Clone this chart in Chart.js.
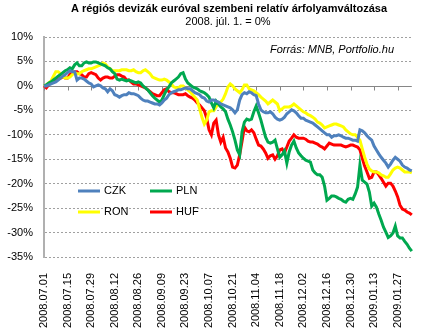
<!DOCTYPE html>
<html>
<head>
<meta charset="utf-8">
<script src="https://cdn.jsdelivr.net/npm/chart.js@4"></script>
<style>
  html, body { margin: 0; padding: 0; background: #fff; }
  #wrap { width: 433px; height: 334px; }
</style>
</head>
<body>
<div id="wrap"><canvas id="c" width="433" height="334"></canvas></div>
<script>
// Tick labels, one every 10 trading days
const tickLabels = [
  '2008.07.01', '2008.07.15', '2008.07.29', '2008.08.12', '2008.08.26', '2008.09.09',
  '2008.09.23', '2008.10.07', '2008.10.21', '2008.11.04', '2008.11.18', '2008.12.02',
  '2008.12.16', '2008.12.30', '2009.01.13', '2009.01.27'
];
const daysPerTick = 10;

// Daily change against the euro, % (2008-07-01 = 0)
const czk = [
  0, 0, 0.2, 0.4, 0.6, 0.8, 1.2, 1.6, 2.0, 2.3,
  2.7, 3.1, 2.9, 2.9, 1.2, 1.6, 1.6, 1.4, 1.0, 0.6,
  0.4, -0.2, 0, 0.2, 0, -0.4, -0.6, -1.2, -0.6, -1.0,
  -1.8, -2.0, -2.3, -2.0, -1.8, -1.8, -1.4, -1.6, -1.6, -1.8,
  -2.0, -2.5, -2.9, -3.1, -3.1, -3.3, -3.5, -3.7, -3.7, -3.9,
  -3.5, -2.9, -2.5, -1.8, -1.4, -1.2, -1.0, -0.8, -0.8, -0.6,
  -0.4, -0.6, -0.6, -1.0, -1.4, -1.6, -1.8, -2.3, -2.5, -3.1,
  -3.3, -2.9, -2.9, -3.1, -3.3, -3.7, -3.9, -4.1, -4.3, -4.5,
  -4.9, -5.5, -4.9, -2.9, -1.8, -1.4, -1.6, -1.2, -1.4, -1.8,
  -2.0, -3.7, -4.9, -5.3, -5.5, -5.5, -5.3, -5.7, -6.4, -6.8,
  -7.0, -6.8, -6.4, -5.7, -5.3, -4.9, -5.1, -5.5, -6.1, -6.6,
  -6.6, -7.0, -7.2, -7.4, -7.6, -8.0, -8.4, -8.8, -9.2, -9.6,
  -10.0, -10.0, -10.5, -10.2, -10.2, -10.0, -10.2, -10.5, -10.7, -10.7,
  -10.9, -11.1, -11.1, -11.3, -9.0, -9.2, -9.6, -10.2, -10.7, -11.1,
  -12.3, -13.1, -13.9, -14.6, -15.2, -15.8, -16.6, -16.0, -15.2, -14.6,
  -15.0, -15.4, -16.2, -16.6, -16.8, -17.2, -17.4
];
const pln = [
  0, 0.2, 0.6, 0.8, 1.2, 1.6, 2.0, 2.3, 2.7, 3.1,
  3.3, 3.7, 3.5, 4.3, 4.7, 4.1, 4.1, 4.7, 4.9, 4.7,
  4.7, 4.9, 4.9, 4.7, 4.5, 4.3, 4.1, 3.7, 3.5, 2.9,
  2.5, 1.4, 1.2, 1.4, 1.2, 1.0, 1.2, 1.0, 0.8, 0.6,
  0.8, 0.6, 0, -0.4, -0.8, -1.4, -2.0, -2.5, -2.9, -3.3,
  -2.9, -1.8, -0.8, -0.2, 0.6, 1.0, 1.4, 1.8, 2.5, 2.7,
  1.4, 0.6, 0.2, -0.2, -0.4, -0.6, -1.0, -1.2, -1.4, -1.8,
  -2.3, -3.5, -4.5, -3.1, -3.7, -4.3, -4.7, -5.3, -6.8, -8.0,
  -9.4, -11.1, -13.1, -14.1, -9.4, -7.4, -6.8, -7.0, -6.8, -5.3,
  -4.1, -5.5, -7.0, -8.8, -10.5, -11.5, -11.7, -11.5, -11.1, -12.9,
  -14.6, -14.1, -13.3, -15.8, -13.5, -12.1, -11.3, -12.7, -13.7, -14.3,
  -14.8, -15.2, -15.4, -15.6, -17.2, -17.8, -18.2, -18.2, -18.7, -20.5,
  -23.4, -23.0, -22.5, -22.5, -22.7, -23.0, -23.2, -23.6, -23.8, -23.2,
  -23.0, -23.2, -22.1, -20.7, -16.2, -19.3, -19.7, -20.1, -21.7, -24.6,
  -24.0, -24.8, -26.2, -27.5, -28.9, -29.9, -31.0, -30.7, -30.1, -28.7,
  -30.7, -31.1, -31.1, -31.8, -32.4, -33.2, -33.8
];
const ron = [
  0, 0.2, 0.6, 1.0, 2.0, 2.9, 2.9, 2.5, 1.8, 1.6,
  1.6, 1.8, 2.3, 2.7, 2.5, 2.5, 2.9, 3.1, 3.3, 3.5,
  3.5, 3.7, 3.9, 4.1, 4.3, 4.7, 4.5, 3.9, 3.5, 3.1,
  3.1, 3.1, 3.1, 3.3, 3.3, 3.3, 3.1, 3.1, 3.3, 2.9,
  2.7, 2.7, 3.1, 3.3, 2.9, 2.5, 1.8, 1.6, 1.4, 1.2,
  1.2, 1.4, 1.2, 0.8, 0.4, -0.2, -0.4, -0.4, 0, 0,
  -0.4, -0.8, -1.2, -1.8, -2.3, -2.9, -4.7, -6.4, -7.8, -7.0,
  -5.3, -5.1, -5.1, -4.3, -3.7, -3.3, -2.7, -1.6, -0.2, 0.4,
  0, -0.6, -1.0, -1.4, -0.8, 0.2, 0.2, -0.6, -0.8, -1.0,
  -1.4, -1.8, -2.3, -2.7, -3.1, -3.7, -3.3, -2.9, -3.3, -3.7,
  -5.1, -4.7, -4.3, -4.3, -4.3, -4.1, -3.7, -4.1, -4.5, -4.9,
  -5.3, -5.5, -5.9, -6.1, -6.4, -6.8, -7.4, -7.6, -8.0, -8.6,
  -8.4, -8.2, -8.0, -7.8, -7.8, -8.0, -8.2, -8.4, -9.0, -9.4,
  -9.8, -10.0, -10.0, -10.5, -11.1, -12.9, -14.6, -16.0, -17.0, -17.4,
  -17.6, -17.6, -17.8, -18.2, -18.4, -18.7, -18.7, -18.0, -17.2, -16.8,
  -16.6, -16.8, -17.2, -17.6, -17.6, -17.6, -17.8
];
const huf = [
  0, -0.4, 0.2, 0.8, 1.0, 1.2, 1.4, 1.6, 1.8, 1.6,
  1.6, 2.3, 2.7, 2.9, 2.9, 2.5, 2.3, 1.8, 1.8, 2.5,
  2.7, 2.5, 2.3, 1.6, 1.2, 1.6, 1.8, 1.8, 1.6, 1.6,
  2.0, 2.3, 2.3, 2.0, 1.8, 1.2, 1.2, 0.8, 0.4, 0.4,
  0.2, 0, -0.2, -0.4, -0.8, -1.2, -1.6, -1.8, -2.0, -2.0,
  -1.4, -0.8, -0.6, -1.2, -1.4, -1.4, -1.6, -1.8, -1.8, -1.8,
  -1.6, -2.0, -2.3, -2.5, -2.9, -3.5, -3.9, -4.5, -5.1, -6.6,
  -9.0, -10.0, -7.6, -7.0, -10.0, -11.5, -10.5, -12.7, -13.5, -14.8,
  -16.6, -16.8, -16.2, -14.1, -11.3, -8.4, -9.2, -9.4, -9.0, -9.6,
  -10.9, -12.1, -12.3, -12.9, -13.7, -14.8, -14.3, -14.1, -15.0, -14.3,
  -13.1, -12.9, -13.7, -12.5, -11.3, -10.7, -10.0, -10.5, -10.7, -10.7,
  -10.7, -10.9, -11.3, -11.5, -11.5, -11.7, -11.9, -12.3, -12.5, -12.9,
  -12.3, -11.7, -11.9, -12.1, -12.1, -12.1, -12.1, -12.3, -12.5, -12.3,
  -12.1, -12.1, -12.3, -12.5, -13.1, -14.8, -16.4, -17.6, -18.9, -18.7,
  -17.6, -17.6, -18.2, -18.9, -19.7, -20.5, -19.9, -19.9, -20.5, -21.5,
  -22.7, -24.4, -25.2, -25.4, -25.8, -26.0, -26.4
];

const seriesNames = ['CZK', 'PLN', 'RON', 'HUF'];
const seriesColors = ['#4F81BD', '#00A84F', '#FFFF00', '#FF0000'];
const seriesValues = [czk, pln, ron, huf];

const titleText = 'A régiós devizák euróval szembeni relatív árfolyamváltozása';
const subtitleText = '2008. júl. 1. = 0%';
const sourceText = 'Forrás: MNB, Portfolio.hu';

// Category per trading day; only every tenth day carries a label
const days = czk.map((_, i) => (i % daysPerTick === 0 ? tickLabels[i / daysPerTick] : ''));

const FONT = "'Liberation Sans', Arial, sans-serif";

// Titles, source note, in-plot legend, the solid zero line and its small ticks
const decorations = {
  id: 'decorations',
  beforeDatasetsDraw(chart) {
    const { ctx, chartArea } = chart;
    const xs = chart.scales.x, ys = chart.scales.y;
    const y0 = Math.round(ys.getPixelForValue(0)) + 0.5;
    ctx.save();
    ctx.strokeStyle = '#868686';
    ctx.lineWidth = 1;
    ctx.beginPath();
    ctx.moveTo(chartArea.left, y0);
    ctx.lineTo(chartArea.right, y0);
    for (let i = 0; i < days.length; i += daysPerTick) {
      const x = Math.round(xs.getPixelForValue(i)) + 0.5;
      ctx.moveTo(x, y0);
      ctx.lineTo(x, y0 + 4);
    }
    ctx.stroke();
    ctx.restore();
  },
  afterDraw(chart) {
    const { ctx } = chart;
    ctx.save();
    ctx.fillStyle = '#000';
    ctx.textBaseline = 'middle';
    ctx.textAlign = 'center';
    ctx.font = 'bold 11px ' + FONT;
    ctx.fillText(titleText, 229, 9);
    ctx.font = '11px ' + FONT;
    ctx.fillText(subtitleText, 228, 22);
    ctx.font = 'italic 11px ' + FONT;
    ctx.textAlign = 'right';
    ctx.fillText(sourceText, 394, 50);

    // legend: two columns, two rows
    ctx.font = '11px ' + FONT;
    ctx.textAlign = 'left';
    const cols = [78, 150], rows = [191, 212];
    seriesNames.forEach((name, k) => {
      const x = cols[k % 2], y = rows[Math.floor(k / 2)];
      ctx.strokeStyle = seriesColors[k];
      ctx.lineWidth = 3;
      ctx.beginPath();
      ctx.moveTo(x, y);
      ctx.lineTo(x + 22, y);
      ctx.stroke();
      ctx.fillText(name, x + 26, y);
    });
    ctx.restore();
  }
};

new Chart(document.getElementById('c'), {
  type: 'line',
  data: {
    labels: days,
    datasets: seriesNames.map((name, k) => ({
      label: name,
      data: seriesValues[k],
      borderColor: seriesColors[k],
      backgroundColor: seriesColors[k],
      borderWidth: 3,
      pointRadius: 0,
      tension: 0,
      fill: false
    }))
  },
  options: {
    responsive: false,
    animation: false,
    layout: { padding: { top: 37, right: 2, left: 0, bottom: 0 } },
    plugins: {
      legend: { display: false },
      title: { display: false },
      tooltip: { enabled: false }
    },
    scales: {
      x: {
        type: 'category',
        offset: false,
        grid: { display: false },
        border: { display: false },
        ticks: {
          autoSkip: false,
          minRotation: 90,
          maxRotation: 90,
          padding: 8,
          color: '#000',
          font: { family: FONT, size: 11 }
        },
        afterFit(scale) { scale.height = 77; }
      },
      y: {
        min: -35,
        max: 10,
        grid: {
          drawTicks: false,
          color: (c) => (c.tick && c.tick.value === 0 ? 'rgba(0,0,0,0)' : '#A0A0A0'),
          lineWidth: 1
        },
        border: {
          display: true,
          color: '#B0B0B0',
          width: 2,
          dash: [2, 2]
        },
        ticks: {
          stepSize: 5,
          padding: 11,
          color: '#000',
          font: { family: FONT, size: 11 },
          callback: (v) => v + '%'
        },
        afterFit(scale) { scale.width = 44; }
      }
    }
  },
  plugins: [decorations]
});
</script>
</body>
</html>
